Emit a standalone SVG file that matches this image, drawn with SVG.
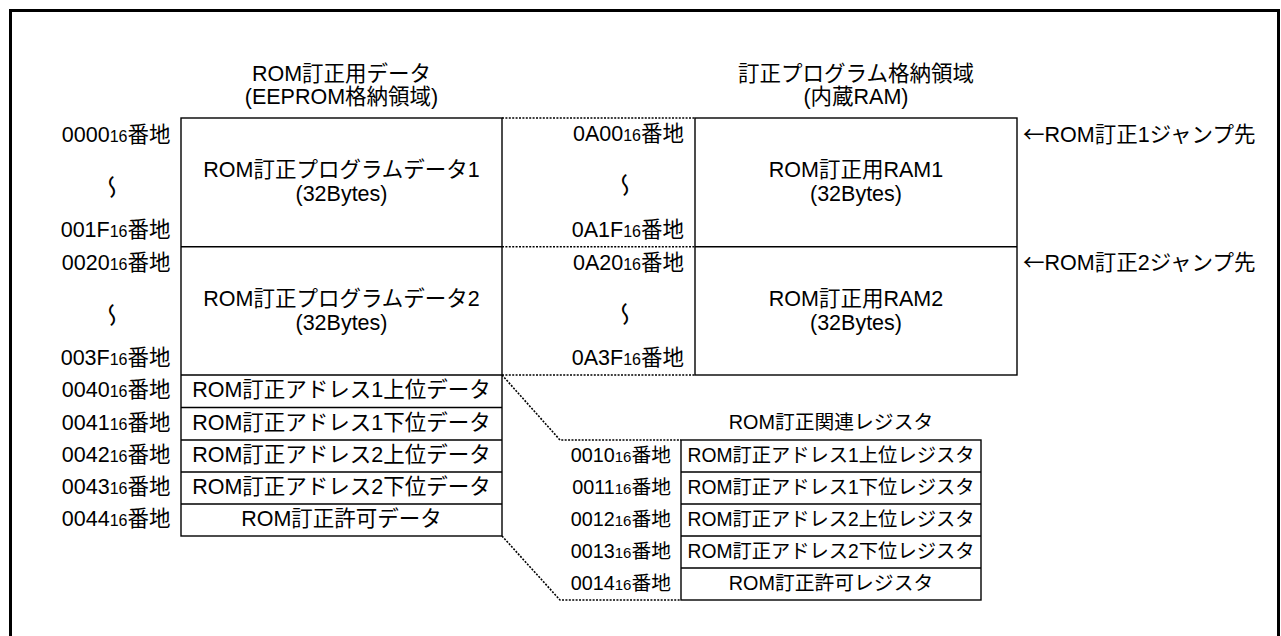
<svg xmlns="http://www.w3.org/2000/svg" width="1281" height="636" viewBox="0 0 1281 636">
<style>
text{font-family:"Liberation Sans","Noto Sans CJK JP",sans-serif;font-size:21.5px;fill:#000}
.r{font-size:19.8px}
.c{text-anchor:middle}
.e{text-anchor:end}
.sub{font-size:16px}
.r .sub{font-size:15px}
.tl{font-family:"Noto Sans CJK JP",sans-serif;font-size:24px;text-anchor:middle;dominant-baseline:central}
.ar{font-family:"Noto Sans CJK JP",sans-serif}
.box{fill:#fff;stroke:#000;stroke-width:1.4}
.ln{stroke:#000;stroke-width:1.4;fill:none}
.dot{stroke:#000;stroke-width:1.6;stroke-dasharray:2 1.4;fill:none}
</style>
<rect width="1281" height="636" fill="#fff"/>
<rect id="frame" x="10.5" y="10.5" width="1268" height="640" fill="none" stroke="#000" stroke-width="3"/>

<g id="title-eeprom">
<text class="c" x="341.5" y="80.5">ROM訂正用データ</text>
<text class="c" x="341.5" y="104">(EEPROM格納領域)</text>
</g>
<g id="title-ram">
<text class="c" x="856" y="80.5">訂正プログラム格納領域</text>
<text class="c" x="856" y="104">(内蔵RAM)</text>
</g>

<g id="eeprom">
<rect class="box" x="181" y="118" width="321" height="418"/>
<path class="ln" d="M181,246.7H502M181,375H502M181,407.5H502M181,440H502M181,472H502M181,504H502"/>
<text class="c" x="341.5" y="177">ROM訂正プログラムデータ1</text>
<text class="c" x="341.5" y="201">(32Bytes)</text>
<text class="c" x="341.5" y="305.5">ROM訂正プログラムデータ2</text>
<text class="c" x="341.5" y="329.5">(32Bytes)</text>
<text class="c" x="341.5" y="397">ROM訂正アドレス1上位データ</text>
<text class="c" x="341.5" y="429.5">ROM訂正アドレス1下位データ</text>
<text class="c" x="341.5" y="462">ROM訂正アドレス2上位データ</text>
<text class="c" x="341.5" y="494">ROM訂正アドレス2下位データ</text>
<text class="c" x="341.5" y="526">ROM訂正許可データ</text>
</g>

<g id="eeprom-addr">
<text class="e" x="170.5" y="142">0000<tspan class="sub">16</tspan>番地</text>
<text class="tl" transform="translate(110,187) rotate(90) scale(1,-1)">～</text>
<text class="e" x="170.5" y="236.5">001F<tspan class="sub">16</tspan>番地</text>
<text class="e" x="170.5" y="270">0020<tspan class="sub">16</tspan>番地</text>
<text class="tl" transform="translate(110,315) rotate(90) scale(1,-1)">～</text>
<text class="e" x="170.5" y="365">003F<tspan class="sub">16</tspan>番地</text>
<text class="e" x="170.5" y="397">0040<tspan class="sub">16</tspan>番地</text>
<text class="e" x="170.5" y="429.5">0041<tspan class="sub">16</tspan>番地</text>
<text class="e" x="170.5" y="462">0042<tspan class="sub">16</tspan>番地</text>
<text class="e" x="170.5" y="494">0043<tspan class="sub">16</tspan>番地</text>
<text class="e" x="170.5" y="526">0044<tspan class="sub">16</tspan>番地</text>
</g>

<g id="ram-addr">
<text class="e" x="684" y="141">0A00<tspan class="sub">16</tspan>番地</text>
<text class="tl" transform="translate(623,185) rotate(90) scale(1,-1)">～</text>
<text class="e" x="684" y="236.5">0A1F<tspan class="sub">16</tspan>番地</text>
<text class="e" x="684" y="270">0A20<tspan class="sub">16</tspan>番地</text>
<text class="tl" transform="translate(623,314) rotate(90) scale(1,-1)">～</text>
<text class="e" x="684" y="365">0A3F<tspan class="sub">16</tspan>番地</text>
</g>

<g id="ram">
<rect class="box" x="695" y="118" width="322" height="257"/>
<path class="ln" d="M695,246.7H1017"/>
<text class="c" x="856" y="177">ROM訂正用RAM1</text>
<text class="c" x="856" y="201">(32Bytes)</text>
<text class="c" x="856" y="305.5">ROM訂正用RAM2</text>
<text class="c" x="856" y="329.5">(32Bytes)</text>
</g>

<g id="jump-labels">
<text x="1023" y="142"><tspan class="ar">←</tspan>ROM訂正1ジャンプ先</text>
<text x="1023" y="270"><tspan class="ar">←</tspan>ROM訂正2ジャンプ先</text>
</g>

<g id="registers">
<text class="c r" x="831" y="429">ROM訂正関連レジスタ</text>
<rect class="box" x="681" y="440" width="300" height="160"/>
<path class="ln" d="M681,472H981M681,504H981M681,536H981M681,568H981"/>
<text class="c r" x="831" y="462" textLength="287" lengthAdjust="spacingAndGlyphs">ROM訂正アドレス1上位レジスタ</text>
<text class="c r" x="831" y="494" textLength="287" lengthAdjust="spacingAndGlyphs">ROM訂正アドレス1下位レジスタ</text>
<text class="c r" x="831" y="526" textLength="287" lengthAdjust="spacingAndGlyphs">ROM訂正アドレス2上位レジスタ</text>
<text class="c r" x="831" y="558" textLength="287" lengthAdjust="spacingAndGlyphs">ROM訂正アドレス2下位レジスタ</text>
<text class="c r" x="831" y="590">ROM訂正許可レジスタ</text>
<text class="e r" x="671" y="462">0010<tspan class="sub">16</tspan>番地</text>
<text class="e r" x="671" y="494">0011<tspan class="sub">16</tspan>番地</text>
<text class="e r" x="671" y="526">0012<tspan class="sub">16</tspan>番地</text>
<text class="e r" x="671" y="558">0013<tspan class="sub">16</tspan>番地</text>
<text class="e r" x="671" y="590">0014<tspan class="sub">16</tspan>番地</text>
</g>

<g id="connectors">
<path class="dot" d="M502,118H695M502,246.7H695M502,375H695"/>
<path class="dot" d="M502,375L560,440H681"/>
<path class="dot" d="M502,536L560,600H681"/>
</g>
</svg>
